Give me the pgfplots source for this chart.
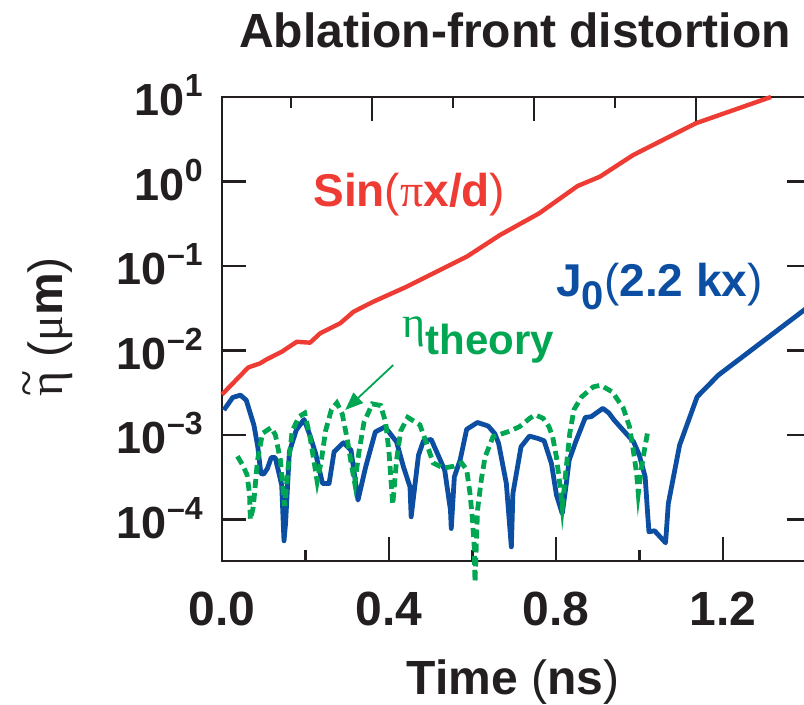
\documentclass[border=0pt]{standalone}
\usepackage{fontspec}
\setmainfont{Liberation Sans}
\newfontfamily\greek{Liberation Serif}
\usepackage{pgfplots}
\pgfplotsset{compat=1.18}
\usetikzlibrary{arrows.meta}

\definecolor{sinred}{HTML}{EE3B33}
\definecolor{jblue}{HTML}{0C4EA2}
\definecolor{thgreen}{HTML}{00A651}
\definecolor{ink}{HTML}{231F20}

% raised exponent for the decade labels
\newcommand{\ex}[1]{\raisebox{9.5pt}{\fontsize{16}{18}\selectfont #1}}
% eta with a tilde set above it
\newcommand{\etatilde}{{\greek\ooalign{\hfil\raisebox{0.42em}{\textasciitilde}\hfil\cr η\cr}}}

\begin{document}
\begin{tikzpicture}
% top ticks sit on a slightly different scale in the original, so a bare axis draws them
\begin{axis}[
    at={(0,0)}, anchor=south west,
    scale only axis, width=294.35pt, height=232pt,
    xmin=0.0296, xmax=1.483, ymin=0, ymax=1,
    hide y axis,
    axis line style={draw=none},
    xtick pos=top,
    xtick={0.4,0.8,1.2}, minor xtick={0.2,0.6,1.0},
    xticklabels={},
    tick style={ink, line width=1.2pt},
    major tick length=12pt, minor tick length=5.5pt,
]
\addplot[draw=none] coordinates {(0.5,0.5)};
\end{axis}

\begin{axis}[
    at={(0,0)}, anchor=south west,
    scale only axis, width=294.35pt, height=232pt,
    xmin=0, xmax=1.41,
    ymode=log, ymin=3.24e-5, ymax=10,
    clip=false,
    axis line style={ink, line width=1.3pt},
    tick style={ink, line width=1.2pt},
    major tick length=12pt, minor tick length=5.5pt,
    xtick pos=bottom,
    xtick={0,0.4,0.8,1.2}, minor xtick={0.2,0.6,1.0,1.4},
    xticklabels={0.0,0.4,0.8,1.2},
    ytick={1e-4,1e-3,1e-2,1e-1,1,10},
    yticklabels={10\ex{–4},10\ex{–3},10\ex{–2},10\ex{–1},10\ex{0},10\ex{1}},
    yminorticks=false,
    xticklabel style={anchor=north, inner sep=0pt, yshift=-15.5pt,
        font=\fontsize{24}{28}\selectfont\bfseries, text=ink},
    yticklabel style={anchor=base east, inner sep=0pt, xshift=-9.5pt, yshift=-9.25pt,
        font=\fontsize{22.5}{26}\selectfont\bfseries, text=ink},
]

% J0(2.2 kx)
\addplot[jblue, line width=2.4pt, line join=round] coordinates {
(0.0045,1.98e-3) (0.0258,2.79e-3) (0.0442,2.97e-3) (0.058,2.59e-3)
(0.0765,1.31e-3) (0.0857,7.28e-4) (0.0931,3.52e-4) (0.0996,3.45e-4)
(0.1088,4.03e-4) (0.118,5.43e-4) (0.1273,5.43e-4) (0.1365,3.52e-4)
(0.143,2.56e-4) (0.1485,5.61e-5) (0.1522,9.0e-5) (0.1614,6.35e-4)
(0.178,1.15e-3) (0.1965,1.53e-3) (0.2104,1.0e-3) (0.2242,6.07e-4)
(0.2408,2.68e-4) (0.2565,2.68e-4) (0.2685,6.35e-4) (0.2907,8.11e-4)
(0.309,6.64e-4) (0.3257,1.70e-4) (0.3442,4.22e-4) (0.3672,1.09e-3)
(0.3903,1.25e-3) (0.418,8.34e-4) (0.4346,4.22e-4) (0.4503,2.44e-4)
(0.4531,1.08e-4) (0.4706,5.79e-4) (0.4826,8.57e-4) (0.5011,8.87e-4)
(0.5177,5.79e-4) (0.5334,3.85e-4) (0.5473,1.29e-4) (0.5491,7.85e-5)
(0.5565,3.21e-4) (0.5703,5.06e-4) (0.586,1.17e-3) (0.6118,1.41e-3)
(0.6377,1.28e-3) (0.6534,1.04e-3) (0.6626,7.96e-4) (0.681,2.68e-4)
(0.693,4.76e-5) (0.6968,2.04e-4) (0.7162,7.28e-4) (0.7364,9.73e-4)
(0.7567,9.12e-4) (0.7715,8.57e-4) (0.7891,4.61e-4) (0.8011,1.95e-4)
(0.8149,1.18e-4) (0.8242,2.56e-4) (0.8315,5.06e-4) (0.8472,8.34e-4)
(0.8703,1.62e-3) (0.8842,1.65e-3) (0.912,2.07e-3) (0.926,1.84e-3)
(0.9395,1.50e-3) (0.9857,8.34e-4) (0.9996,5.79e-4) (1.0135,3.21e-4)
(1.02,1.08e-4) (1.0226,7.18e-5) (1.036,7.38e-5) (1.0624,5.32e-5)
(1.069,1.55e-4) (1.096,7.60e-4) (1.138,2.84e-3) (1.189,5.13e-3)
(1.394,3.01e-2) (1.41,3.46e-2)
};

% Sin(pi x/d)
\addplot[sinred, line width=2.2pt, line join=round] coordinates {
(0.0,3.02e-3) (0.063,6.32e-3) (0.091,7.05e-3) (0.107,7.87e-3)
(0.143,9.68e-3) (0.179,1.27e-2) (0.211,1.24e-2) (0.235,1.60e-2)
(0.283,2.10e-2) (0.315,2.88e-2) (0.362,3.78e-2) (0.442,5.69e-2)
(0.522,8.98e-2) (0.586,0.129) (0.666,0.233) (0.7595,0.420)
(0.8517,0.885) (0.905,1.14) (0.985,2.06) (1.135,4.89) (1.315,10)
};

% eta theory
\addplot[thgreen, line width=2.4pt, dash pattern=on 4.5pt off 2.5pt] coordinates {
(0.037,5.62e-4) (0.050,4.37e-4) (0.060,3.39e-4) (0.066,2.0e-4)
(0.068,1.0e-4) (0.075,1.41e-4) (0.085,5.01e-4) (0.097,1.05e-3)
(0.118,1.23e-3) (0.128,1.0e-3) (0.140,5.01e-4) (0.150,1.45e-4)
(0.158,3.98e-4) (0.168,1.12e-3) (0.185,1.66e-3) (0.198,1.82e-3)
(0.210,1.0e-3) (0.220,5.01e-4) (0.228,2.82e-4) (0.238,5.01e-4)
(0.248,1.12e-3) (0.262,2.0e-3) (0.275,2.40e-3) (0.288,1.78e-3)
(0.300,8.91e-4) (0.310,4.47e-4) (0.318,2.69e-4) (0.328,6.31e-4)
(0.340,1.41e-3) (0.360,2.34e-3) (0.380,2.24e-3) (0.392,1.41e-3)
(0.400,6.31e-4) (0.409,1.51e-4) (0.418,5.01e-4) (0.428,1.12e-3)
(0.445,1.62e-3) (0.474,1.32e-3) (0.490,7.94e-4) (0.506,4.68e-4)
(0.530,4.07e-4) (0.554,4.27e-4) (0.574,4.68e-4) (0.586,3.89e-4)
(0.594,2.04e-4) (0.600,1.0e-4) (0.604,4.79e-5) (0.606,1.82e-5)
(0.612,1.29e-4) (0.621,2.95e-4) (0.630,5.50e-4) (0.649,9.55e-4)
(0.686,1.10e-3) (0.713,1.26e-3) (0.737,1.58e-3) (0.750,1.74e-3)
(0.769,1.58e-3) (0.783,1.26e-3) (0.792,9.55e-4) (0.801,5.50e-4)
(0.810,2.45e-4) (0.815,1.41e-4) (0.824,3.89e-4) (0.833,1.05e-3)
(0.843,2.0e-3) (0.861,2.82e-3) (0.889,3.72e-3) (0.907,3.89e-3)
(0.935,3.24e-3) (0.961,2.09e-3) (0.976,1.26e-3) (0.985,6.61e-4)
(0.993,3.55e-4) (0.997,2.04e-4) (1.005,4.17e-4) (1.013,7.24e-4)
(1.019,1.05e-3)
};

\draw[thgreen, line width=0.9pt, -{Triangle[length=9pt,width=7pt]}]
    (axis cs:0.41,6.73e-3) -- (axis cs:0.295,1.98e-3);
\end{axis}

% texts, placed in pt from the lower left corner of the axis box
\node[anchor=base, text=ink, inner sep=0pt] at (146.5pt,256.5pt)
    {\fontsize{24}{28}\selectfont\bfseries Ablation-front distortion};
\node[anchor=base, text=ink, inner sep=0pt] at (145.5pt,-67pt)
    {\fontsize{24}{28}\selectfont\textbf{Time} (\textbf{ns})};
\node[rotate=90, anchor=center, text=ink, inner sep=0pt] at (-87pt,117pt)
    {\fontsize{24}{28}\selectfont\etatilde\ ({\greek μ}\textbf{m})};
\node[anchor=base west, text=sinred, inner sep=0pt] at (45.5pt,177pt)
    {\fontsize{23}{27}\selectfont\textbf{Sin}({\greek π}\textbf{x/d})};
\node[anchor=base west, text=jblue, inner sep=0pt] at (167pt,132pt)
    {\fontsize{23}{27}\selectfont\textbf{J\raisebox{-6.5pt}{\fontsize{20}{24}\selectfont 0}}(\textbf{2.2 kx})};
\node[anchor=base west, text=thgreen, inner sep=0pt] at (90pt,111.5pt)
    {\fontsize{22}{26}\selectfont{\greek η}\raisebox{-8.5pt}{\fontsize{21}{25}\selectfont\bfseries theory}};

\pgfresetboundingbox
\path[use as bounding box] (-111pt,-72pt) rectangle (291pt,280.5pt);
\end{tikzpicture}
\end{document}
